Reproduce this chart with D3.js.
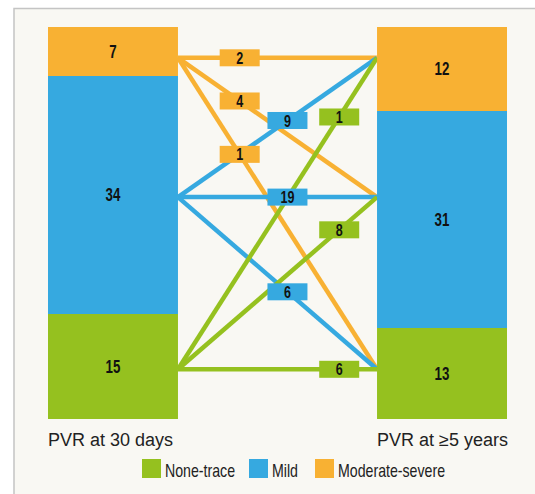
<!DOCTYPE html>
<html>
<head>
<meta charset="utf-8">
<script src="https://cdn.jsdelivr.net/npm/d3@7"></script>
<style>
  html, body { margin: 0; padding: 0; background: #ffffff; }
  svg { display: block; }
</style>
</head>
<body>
<svg id="chart" width="535" height="494"></svg>
<script>
// Paravalvular regurgitation grades, listed top of the stack first
const grades = ["Moderate-severe", "Mild", "None-trace"];
const timepoints = ["PVR at 30 days", "PVR at \u22655 years"];
const countsAt30Days = [7, 34, 15];
const countsAt5Years = [12, 31, 13];
// transitions[i][j]: patients moving from grade i at 30 days to grade j at >=5 years
const transitions = [
  [2, 4, 1],
  [9, 19, 6],
  [1, 8, 6]
];
const legendOrder = ["None-trace", "Mild", "Moderate-severe"];

const colors = {
  "None-trace": "#95c11f",
  "Mild": "#36a9e0",
  "Moderate-severe": "#f8b133"
};

const W = 535, H = 494;
const svg = d3.select("#chart");

const numFont = "'Liberation Sans', Arial, sans-serif";
const textFont = "'Liberation Sans', Arial, sans-serif";
const narrow = 0.74;      // horizontal squeeze for the condensed numerals
const legendNarrow = 0.81;

// panel
svg.append("rect").attr("x", 0).attr("y", 0).attr("width", W).attr("height", H).attr("fill", "#ffffff");
svg.append("rect").attr("x", 14).attr("y", 8.5).attr("width", W).attr("height", H)
  .attr("fill", "#f9f8f3").attr("stroke", "#c4c4c4").attr("stroke-width", 1.5);

const total = d3.sum(countsAt30Days);
const y = d3.scaleLinear().domain([0, total]).range([27, 419]);
const x = d3.scaleBand().domain(timepoints).range([48, 507]).paddingInner(0.605);

// stacked columns
const columns = [countsAt30Days, countsAt5Years].map((counts, ci) => {
  let acc = 0;
  return grades.map((g, gi) => {
    const seg = { time: timepoints[ci], grade: g, value: counts[gi], y0: acc, y1: acc + counts[gi] };
    acc += counts[gi];
    return seg;
  });
});

// vertical level (in patient units) where the flow lines meet each column
const anchorLevel = { "Moderate-severe": 4.4, "Mild": 24.3, "None-trace": 48.9 };
const leftX = x(timepoints[0]) + x.bandwidth();
const rightX = x(timepoints[1]);
// position of value tags along each line, by origin grade
const tagAlong = { "Moderate-severe": 0.31, "Mild": 0.55, "None-trace": 0.81 };

const flows = [];
grades.forEach((from, i) => {
  grades.forEach((to, j) => {
    flows.push({ from, to, value: transitions[i][j] });
  });
});

const flowOrder = ["Moderate-severe", "Mild", "None-trace"];
const sortedFlows = flowOrder.flatMap(g => flows.filter(f => f.from === g));

svg.append("g").selectAll("line").data(sortedFlows).join("line")
  .attr("x1", leftX).attr("y1", d => y(anchorLevel[d.from]))
  .attr("x2", rightX).attr("y2", d => y(anchorLevel[d.to]))
  .attr("stroke", d => colors[d.from])
  .attr("stroke-width", 4.5);

function condensedNumber(sel, size) {
  sel.append("g")
    .attr("transform", `scale(${narrow},1)`)
    .append("text")
    .attr("text-anchor", "middle").attr("dy", "0.36em")
    .attr("font-family", numFont).attr("font-weight", "bold").attr("font-size", size)
    .attr("fill", "#111")
    .text(d => d.value);
}

const colG = svg.append("g");
columns.forEach(col => {
  const g = colG.append("g");
  g.selectAll("rect").data(col).join("rect")
    .attr("x", d => x(d.time)).attr("width", x.bandwidth())
    .attr("y", d => y(d.y0)).attr("height", d => y(d.y1) - y(d.y0))
    .attr("fill", d => colors[d.grade]);
  g.selectAll("g.val").data(col).join("g")
    .attr("class", "val")
    .attr("transform", d => `translate(${x(d.time) + x.bandwidth() / 2},${(y(d.y0) + y(d.y1)) / 2})`)
    .call(condensedNumber, 18);
});

// value tags on the flow lines
const tagW = 40, tagH = 17;
const tags = svg.append("g").selectAll("g").data(flows).join("g")
  .attr("transform", d => {
    const t = tagAlong[d.from];
    const y1 = y(anchorLevel[d.from]), y2 = y(anchorLevel[d.to]);
    const cx = leftX + t * (rightX - leftX);
    const cy = y1 + t * (y2 - y1);
    return `translate(${cx},${cy})`;
  });
tags.append("rect")
  .attr("x", -tagW / 2).attr("y", -tagH / 2).attr("width", tagW).attr("height", tagH)
  .attr("fill", d => colors[d.from]);
tags.call(condensedNumber, 17);

// column captions
svg.append("g").selectAll("text").data(timepoints).join("text")
  .attr("x", d => x(d)).attr("y", 446)
  .attr("font-family", textFont).attr("font-size", 18)
  .attr("fill", "#222")
  .text(d => d);

// legend
const legendX = { "None-trace": 142, "Mild": 249, "Moderate-severe": 315 };
const lg = svg.append("g").selectAll("g").data(legendOrder).join("g")
  .attr("transform", d => `translate(${legendX[d]},459)`);
lg.append("rect").attr("width", 19).attr("height", 19).attr("fill", d => colors[d]);
lg.append("g").attr("transform", `translate(23,18) scale(${legendNarrow},1)`)
  .append("text")
  .attr("font-family", textFont).attr("font-size", 17.5).attr("fill", "#222")
  .text(d => d);
</script>
</body>
</html>
